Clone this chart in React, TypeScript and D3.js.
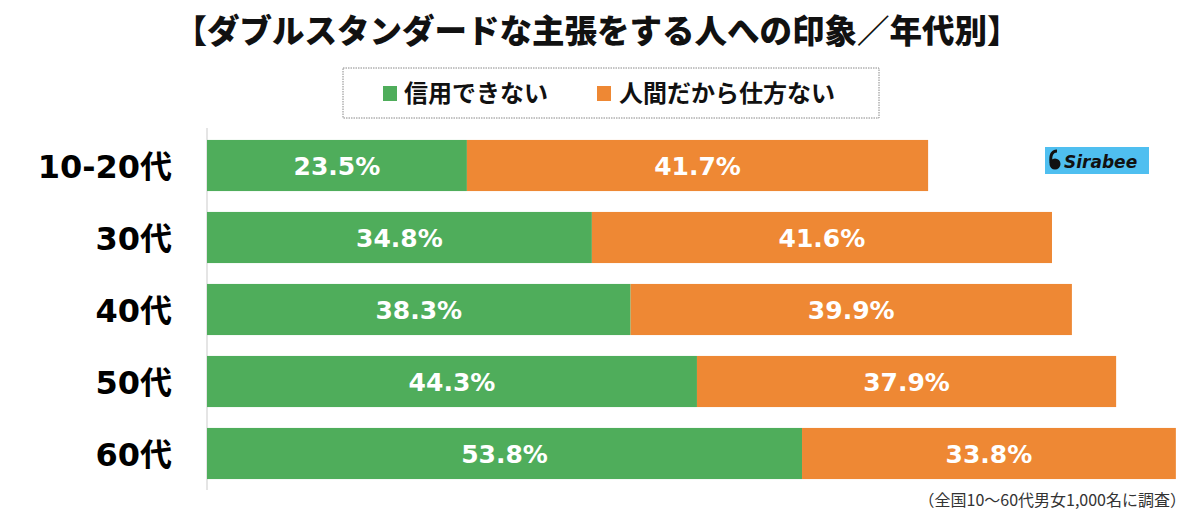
import React from "react";
import * as d3 from "d3";

const categories = ["10-20代", "30代", "40代", "50代", "60代"];
const untrusted = [23.5, 34.8, 38.3, 44.3, 53.8];
const unavoidable = [41.7, 41.6, 39.9, 37.9, 33.8];
const seriesNames = ["信用できない", "人間だから仕方ない"];
const colors = ["#4FAD5B", "#EE8834"];

const W = 1200;
const H = 517;
const FONT = "'Noto Sans CJK JP', 'Noto Sans', sans-serif";
const NUMFONT = "'DejaVu Sans', 'Noto Sans CJK JP', sans-serif";

export default function App() {
  const x = d3.scaleLinear().domain([0, 100]).range([207, 207 + 1106]);
  const y = d3.scaleBand().domain(categories).range([140 - 10.5, 479 + 10.5]).paddingInner(0.29).paddingOuter(0.145);
  const bh = y.bandwidth();

  return (
    <svg width={W} height={H} style={{ position: "absolute", left: 0, top: 0, background: "#fff" }}>
      <rect x={0} y={0} width={W} height={H} fill="#fff" />
      <text x={597} y={43} textAnchor="middle" fontFamily={FONT} fontWeight={900} fontSize={32.5} fill="#111">
        【ダブルスタンダードな主張をする人への印象／年代別】
      </text>
      <rect x={343} y={68} width={536} height={50} fill="#fff" stroke="#888" strokeWidth={1} strokeDasharray="1.5,1" />
      <rect x={383} y={86} width={14} height={15} fill={colors[0]} />
      <text x={404} y={102} fontFamily={FONT} fontWeight={700} fontSize={24} fill="#111">{seriesNames[0]}</text>
      <rect x={597} y={86} width={14} height={15} fill={colors[1]} />
      <text x={619} y={102} fontFamily={FONT} fontWeight={700} fontSize={24} fill="#111">{seriesNames[1]}</text>

      <line x1={207} x2={207} y1={128} y2={490} stroke="#ddd" strokeWidth={1.5} />

      {categories.map((c, i) => {
        const y0 = y(c)!;
        const a = untrusted[i];
        const b = unavoidable[i];
        return (
          <g key={c}>
            <text x={172} y={y0 + bh / 2 + 12} textAnchor="end" fontFamily={NUMFONT} fontWeight={700} fontSize={32} fill="#000">{c}</text>
            <rect x={x(0)} y={y0} width={x(a) - x(0)} height={bh} fill={colors[0]} />
            <rect x={x(a)} y={y0} width={x(a + b) - x(a)} height={bh} fill={colors[1]} />
            <text x={(x(0) + x(a)) / 2} y={y0 + bh / 2 + 9} textAnchor="middle" fontFamily={NUMFONT} fontWeight={700} fontSize={25} fill="#fff">{a.toFixed(1)}%</text>
            <text x={(x(a) + x(a + b)) / 2} y={y0 + bh / 2 + 9} textAnchor="middle" fontFamily={NUMFONT} fontWeight={700} fontSize={25} fill="#fff">{b.toFixed(1)}%</text>
          </g>
        );
      })}

      <rect x={1045} y={147} width={104} height={27} fill="#4FBFF0" />
      <circle cx={1055} cy={164} r={5.5} fill="#111" />
      <path d="M1051,163 C1050,155 1052,151 1057,151" stroke="#111" strokeWidth={3} fill="none" />
      <text x={1064} y={168} fontFamily={NUMFONT} fontWeight={700} fontStyle="italic" fontSize={17} fill="#111">Sirabee</text>

      <text x={1186} y={506} textAnchor="end" fontFamily={FONT} fontSize={16} fill="#333">（全国10～60代男女1,000名に調査）</text>
    </svg>
  );
}
